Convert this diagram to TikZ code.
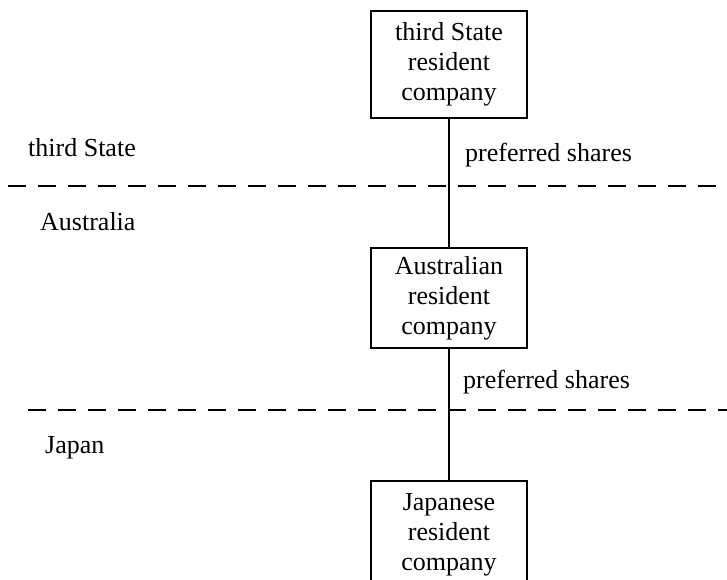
\documentclass[tikz,border=0pt]{standalone}
\usepackage{fontspec}
\setmainfont{Liberation Serif}
\begin{document}
\begin{tikzpicture}[x=1pt,y=-1pt,
  every node/.style={font=\fontsize{26}{30}\selectfont},
  entity/.style={draw,line width=1.3pt,minimum width=156pt,align=center,inner sep=0pt},
  border/.style={line width=1.3pt,dash pattern=on 18pt off 12pt},
  link/.style={line width=1.3pt},
  label/.style={anchor=base west,inner sep=0pt}]
\useasboundingbox (0,0) rectangle (727,579);
\clip (0,0) rectangle (727,579);
% companies
\node[entity,minimum height=107pt] (third) at (449,64.5) {third State\\resident\\company};
\node[entity,minimum height=100pt] (aus) at (449,298) {Australian\\resident\\company};
\node[entity,minimum height=107pt] (jpn) at (449,534.5) {Japanese\\resident\\company};
% shareholding links
\draw[link] (third.south) -- (aus.north);
\draw[link] (aus.south) -- (jpn.north);
% state borders
\coordinate (b1w) at (8,186);
\coordinate (b1e) at (727,186);
\coordinate (b2w) at (28,410);
\coordinate (b2e) at (727,410);
\draw[border] (b1w) -- (b1e);
\draw[border] (b2w) -- (b2e);
% labels
\node[label] (lts) at (28,156) {third State};
\node[label] (lau) at (40,230) {Australia};
\node[label] (ljp) at (45,453) {Japan};
\node[label] (ps1) at (465,161) {preferred shares};
\node[label] (ps2) at (463,388) {preferred shares};
\end{tikzpicture}
\end{document}
